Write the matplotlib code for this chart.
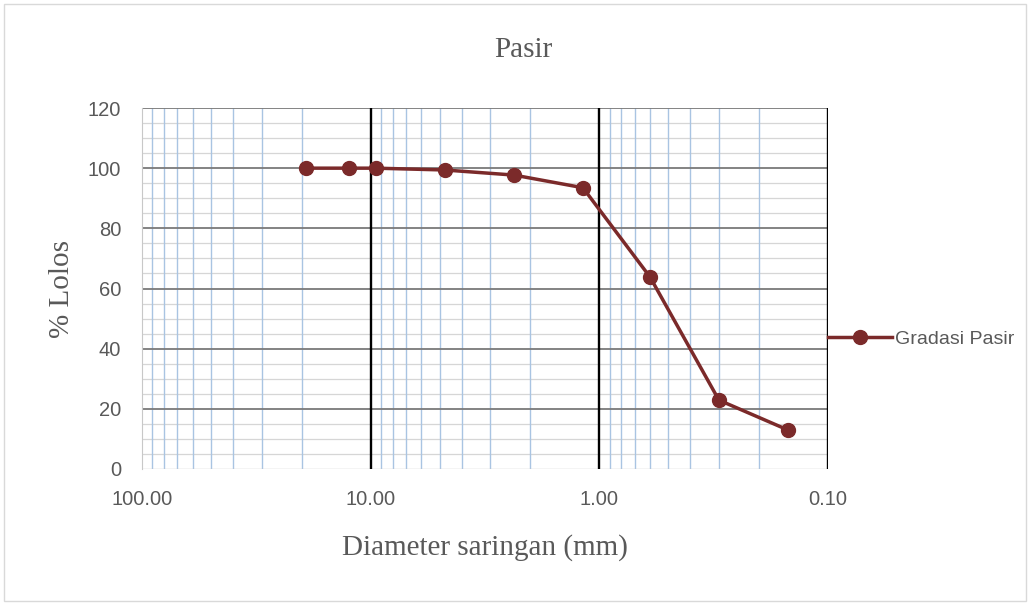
import matplotlib.pyplot as plt
from matplotlib.patches import Rectangle
import numpy as np

# sieve diameter (mm) and percent passing
diameter = [19.1, 12.5, 9.5, 4.75, 2.36, 1.18, 0.6, 0.3, 0.15]
lolos = [100, 100, 100, 99.4, 97.7, 93.5, 63.8, 22.9, 13.0]
x_ticks = [100, 10, 1, 0.1]
x_ticklabels = ["100.00", "10.00", "1.00", "0.10"]
y_ticks = [0, 20, 40, 60, 80, 100, 120]

line_color = "#7b2a2a"
tick_color = "#595959"

fig = plt.figure(figsize=(10.30, 6.03), dpi=100)
ax = fig.add_axes([142/1030, 1-469/603, 686/1030, 361/603])

ax.set_xscale("log")
ax.set_xlim(100, 0.1)
ax.set_ylim(0, 120)

# minor grid
for dec in [10, 1, 0.1]:
    for m in range(2, 10):
        ax.axvline(dec*m, color="#a9c4e2", lw=1.0, zorder=2)
for yv in np.arange(0, 121, 5):
    if yv % 20:
        ax.axhline(yv, color="#d6d6d6", lw=0.9, zorder=1)
for yv in y_ticks[1:]:
    ax.axhline(yv, color="#7a7a7a", lw=1.3, zorder=2)
ax.axhline(0, color="#c8c8c8", lw=1.0, zorder=2)
for xv in [10, 1, 0.1]:
    ax.axvline(xv, color="black", lw=1.7, zorder=3)

for s in ["top", "right", "bottom"]:
    ax.spines[s].set_visible(False)
ax.spines["left"].set_color("#c8c8c8")

ax.plot(diameter, lolos, color=line_color, lw=2.5, marker="o", ms=10,
        label="Gradasi Pasir", zorder=5)

ax.set_xticks(x_ticks)
ax.set_xticklabels(x_ticklabels)
ax.set_xticks([], minor=True)
ax.set_yticks(y_ticks)
ax.tick_params(length=0, labelsize=14.5, colors=tick_color)
for lbl in ax.get_xticklabels() + ax.get_yticklabels():
    lbl.set_family("Liberation Sans")
ax.tick_params(axis="y", pad=15)
ax.tick_params(axis="x", pad=15)

fig.text(523/1030, 1-57/603, "Pasir", family="Liberation Serif", fontsize=21,
         color=tick_color, ha="center", va="baseline")
ax.set_xlabel("Diameter saringan (mm)", family="Liberation Serif", fontsize=21,
              color=tick_color, va="center")
ax.xaxis.set_label_coords(0.5, -0.217)
ax.set_ylabel("% Lolos", family="Liberation Serif", fontsize=21,
              color=tick_color, va="center")
ax.yaxis.set_label_coords(-0.1166, 0.5)

leg = ax.legend(loc="center left", bbox_to_anchor=(1.0, 0.36), frameon=False,
                prop={"family": "Liberation Sans", "size": 14},
                handlelength=3.3, handletextpad=0.15, borderaxespad=0.0,
                borderpad=0.0)
for t in leg.get_texts():
    t.set_color(tick_color)

fig.patches.append(Rectangle((0.004, 0.004), 0.992, 0.99, transform=fig.transFigure,
                             fill=False, edgecolor="#d9d9d9", lw=1.0))

fig.savefig("out.png", dpi=100)
